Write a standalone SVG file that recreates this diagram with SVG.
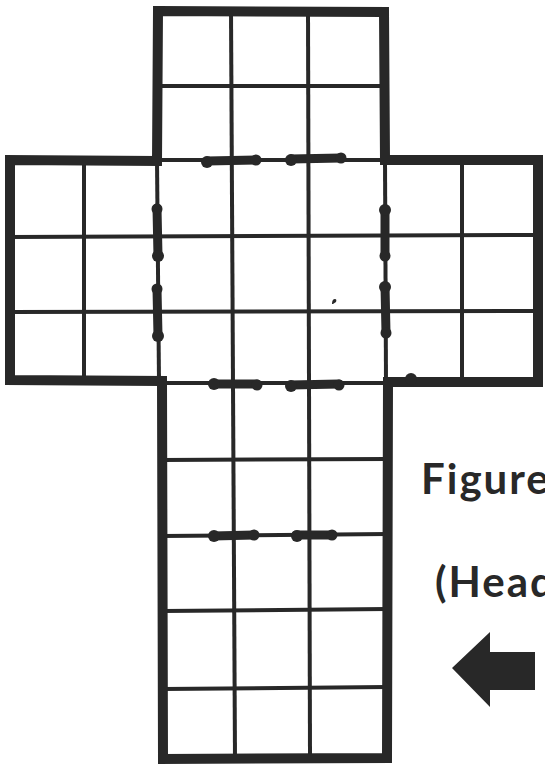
<svg xmlns="http://www.w3.org/2000/svg" width="545" height="769" viewBox="0 0 545 769">
<style>
.outline{fill:none;stroke:#282828;stroke-width:10;stroke-linejoin:miter}
.grid{stroke:#282828;stroke-width:4;fill:none;stroke-linecap:butt}
.blob{stroke:#282828;stroke-width:9;stroke-linecap:round}
.dot{fill:#282828}
.label{font-family:Lato,"Open Sans","Liberation Sans",sans-serif;font-weight:bold;font-size:42px;letter-spacing:2px;fill:#282828}
</style>
<rect width="545" height="769" fill="#ffffff"/>
<g id="grid-lines">
  <line class="grid" x1="158" y1="86" x2="384" y2="86"/>
  <line class="grid" x1="231" y1="11" x2="235" y2="758"/>
  <line class="grid" x1="308" y1="11" x2="310" y2="758"/>
  <line class="grid" x1="157" y1="160" x2="385" y2="160"/>
  <line class="grid" x1="84" y1="160" x2="84" y2="380"/>
  <line class="grid" x1="157" y1="160" x2="159" y2="382"/>
  <line class="grid" x1="385" y1="160" x2="386" y2="382"/>
  <line class="grid" x1="462" y1="160" x2="462" y2="382"/>
  <line class="grid" x1="10" y1="237" x2="538" y2="235"/>
  <line class="grid" x1="10" y1="312" x2="538" y2="311"/>
  <line class="grid" x1="162" y1="383" x2="388" y2="383"/>
  <line class="grid" x1="162" y1="460" x2="388" y2="459"/>
  <line class="grid" x1="162" y1="536" x2="388" y2="534"/>
  <line class="grid" x1="163" y1="611" x2="387" y2="609"/>
  <line class="grid" x1="163" y1="689" x2="387" y2="687"/>
</g>
<g id="cross-outline">
  <path class="outline" d="M158,11 L384,12 L385,160 L538,160 L538,382 L388,382 L387,758 L163,759 L162,381 L10,380 L10,160 L157,161 Z"/>
</g>
<g id="fold-marks">
  <line class="blob" x1="207" y1="161" x2="256" y2="160"/>
  <line class="blob" x1="291" y1="159" x2="341" y2="158"/>
  <line class="blob" x1="157" y1="208" x2="158" y2="256"/>
  <line class="blob" x1="157" y1="289" x2="158" y2="336"/>
  <line class="blob" x1="385" y1="209" x2="385" y2="256"/>
  <line class="blob" x1="385" y1="286" x2="386" y2="333"/>
  <line class="blob" x1="213" y1="384" x2="257" y2="384"/>
  <line class="blob" x1="291" y1="385" x2="339" y2="384"/>
  <line class="blob" x1="213" y1="536" x2="254" y2="535"/>
  <line class="blob" x1="296" y1="535" x2="332" y2="535"/>
  <circle class="dot" cx="207" cy="162" r="6"/>
  <circle class="dot" cx="256" cy="160" r="5.5"/>
  <circle class="dot" cx="291" cy="160" r="6"/>
  <circle class="dot" cx="341" cy="158" r="5.5"/>
  <circle class="dot" cx="157" cy="209" r="5.5"/>
  <circle class="dot" cx="158" cy="256" r="6"/>
  <circle class="dot" cx="157" cy="289" r="5.5"/>
  <circle class="dot" cx="158" cy="336" r="6"/>
  <circle class="dot" cx="385" cy="210" r="6"/>
  <circle class="dot" cx="385" cy="256" r="5.5"/>
  <circle class="dot" cx="385" cy="287" r="6"/>
  <circle class="dot" cx="386" cy="333" r="5.5"/>
  <circle class="dot" cx="214" cy="384" r="6"/>
  <circle class="dot" cx="257" cy="385" r="5.5"/>
  <circle class="dot" cx="291" cy="386" r="6"/>
  <circle class="dot" cx="339" cy="385" r="5.5"/>
  <circle class="dot" cx="214" cy="536" r="6"/>
  <circle class="dot" cx="254" cy="535" r="5.5"/>
  <circle class="dot" cx="297" cy="536" r="6"/>
  <circle class="dot" cx="332" cy="535" r="5.5"/>
  <circle class="dot" cx="411" cy="379" r="6"/>
  <path d="M332,304 q0,-5 3,-5 q2,0 1,3 l-3,2 Z" fill="#282828"/>
</g>
<g id="caption">
  <text class="label" x="421" y="494">Figure</text>
  <text class="label" x="435" y="597">(Head</text>
</g>
<g id="arrow">
  <polygon points="452,668 490,632 490,652 535,652 535,690 490,690 490,707" fill="#282828"/>
</g>
</svg>
